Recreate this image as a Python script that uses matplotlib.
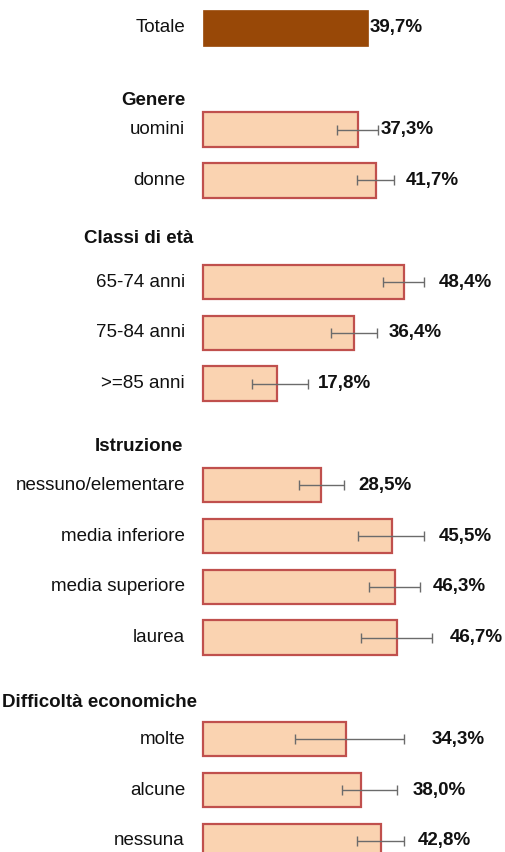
import matplotlib.pyplot as plt

plt.rcParams['font.family'] = ['Liberation Sans', 'DejaVu Sans']

# data
categories = ["Totale",
              "uomini", "donne",
              "65-74 anni", "75-84 anni", ">=85 anni",
              "nessuno/elementare", "media inferiore", "media superiore", "laurea",
              "molte", "alcune", "nessuna"]
values = [39.7, 37.3, 41.7, 48.4, 36.4, 17.8, 28.5, 45.5, 46.3, 46.7, 34.3, 38.0, 42.8]
ci_low = [None, 32.2, 37.0, 43.3, 30.8, 11.8, 23.1, 37.3, 40.0, 38.0, 22.1, 33.4, 37.0]
ci_high = [None, 42.1, 45.9, 53.2, 41.9, 25.3, 33.9, 53.2, 52.2, 55.1, 48.4, 46.7, 48.4]
groups = ["Genere", "Classi di età", "Istruzione", "Difficoltà economiche"]

# layout
rows = [0, 2, 3, 5, 6, 7, 9, 10, 11, 12, 14, 15, 16]
group_rows = [1.42, 4.15, 8.23, 13.27]
group_x = [-4.33, -2.41, -4.81, -1.44]
label_dx = [2, 3, 12, 15, 11, 10, 14, 15, 13, 18, 27, 16, 14]  # pixels

fig = plt.figure(figsize=(5.05, 8.52), dpi=100)
ax = fig.add_axes([0, 0, 1, 1])
ax.set_xlim(-48.85, 72.67)
ax.set_ylim(16.22, -0.551)
ax.axis("off")

fs = 13.5
for i, (cat, v, r) in enumerate(zip(categories, values, rows)):
    if i == 0:
        ax.barh(r, v, height=0.7, left=0, color="#984807", edgecolor="#984807", linewidth=0.5)
        xr = v
    else:
        ax.barh(r, v, height=0.68, left=0, color="#FAD3B1", edgecolor="#C0504D", linewidth=1.6)
        lo, hi = ci_low[i], ci_high[i]
        ax.errorbar(v, r, xerr=[[v - lo], [hi - v]], fmt="none", ecolor="#6b6b6b",
                    elinewidth=1, capsize=3.5, capthick=1)
        xr = hi
    ax.text(-4.33, r, cat, ha="right", va="center", fontsize=fs, color="#111111")
    ax.annotate(f"{v:.1f}%".replace(".", ","), xy=(xr, r), xytext=(label_dx[i] * 0.72, 0),
                textcoords="offset points", ha="left", va="center",
                fontsize=fs, fontweight="bold", color="#111111")

for g, gr, gx in zip(groups, group_rows, group_x):
    ax.text(gx, gr, g, ha="right", va="center", fontsize=fs, fontweight="bold", color="#111111")

plt.savefig("out.png", dpi=100)
